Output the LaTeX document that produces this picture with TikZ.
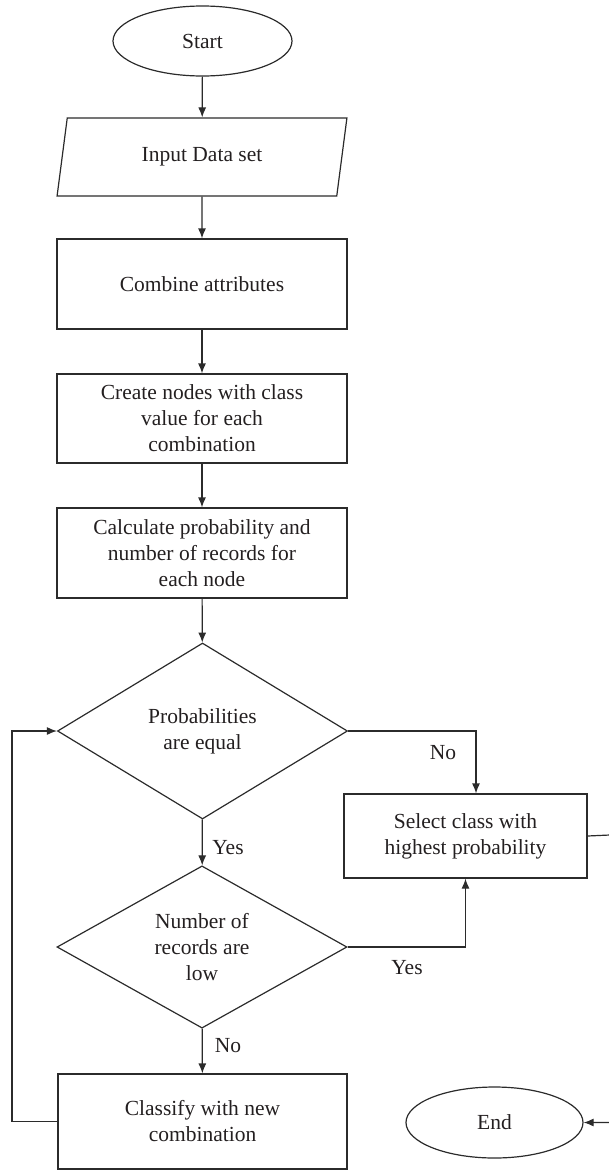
\documentclass[tikz,border=0pt]{standalone}
\usepackage{fontspec}
\setmainfont{Liberation Serif}
\usetikzlibrary{shapes.geometric,arrows.meta}
\definecolor{ln}{HTML}{2B2B2B}
\definecolor{tx}{HTML}{231F20}
\begin{document}
\begin{tikzpicture}[x=1pt,y=-1pt,
  every node/.style={font=\fontsize{21.5}{26}\selectfont, text=tx, align=center, inner sep=0pt},
  box/.style={draw=ln, line width=1.2pt, rectangle, minimum width=290pt},
  term/.style={draw=ln, line width=1.2pt, ellipse},
  decision/.style={draw=ln, line width=1.2pt, diamond, minimum width=290pt},
  io/.style={draw=ln, line width=1.2pt, trapezium, trapezium left angle=76.3, trapezium right angle=103.7, trapezium stretches=true, minimum width=290pt, minimum height=78pt},
  conn/.style={draw=ln, line width=1.2pt, -{Latex[length=10pt,width=8pt]}},
  lab/.style={font=\fontsize{21.5}{26}\selectfont}]
\useasboundingbox (0,0) rectangle (609,1170);
\node[term, minimum width=179pt, minimum height=70pt] (start) at (202.5,41) {Start};
\node[io] (input) at (202,157) {Input Data set};
\node[box, minimum height=90pt] (combine) at (202,284) {Combine attributes};
\node[box, minimum height=89pt] (create) at (202,418.5) {Create nodes with class\\value for each\\combination};
\node[box, minimum height=90pt] (calc) at (202,553) {Calculate probability and\\number of records for\\each node};
\node[decision, minimum height=176pt] (d1) at (202.5,731) {Probabilities\\are equal};
\node[decision, minimum height=152pt] (d2) at (202,947) {Number of\\records are\\low};
\node[box, minimum height=95pt, minimum width=289pt] (classify) at (202.5,1121.5) {Classify with new\\combination};
\node[box, minimum height=84pt, minimum width=243pt] (select) at (465.5,836) {Select class with\\highest probability};
\node[term, minimum width=177pt, minimum height=71pt] (end) at (494.5,1122.5) {End};
\coordinate (loopx) at (12,1123);
\coordinate (rightx) at (609.8,835);
\draw[conn] (start) -- (input);
\draw[conn] (input) -- (combine);
\draw[conn] (combine) -- (create);
\draw[conn] (create) -- (calc);
\draw[conn] (calc) -- (d1);
\draw[conn] (d1) -- (d2);
\draw[conn] (d2) -- (classify);
\draw[conn] (d1.east) -| ([xshift=10.5pt]select.north);
\draw[conn] (d2.east) -| (select.south);
\draw[conn] (select.east) -- (rightx) |- (end.east);
\draw[conn] (classify.west) -- (classify.west -| loopx) |- (d1.west);
\node[lab] (l1) at (443,753) {No};
\node[lab] (l2) at (228,848) {Yes};
\node[lab] (l3) at (407,968) {Yes};
\node[lab] (l4) at (228,1046) {No};
\end{tikzpicture}
\end{document}
